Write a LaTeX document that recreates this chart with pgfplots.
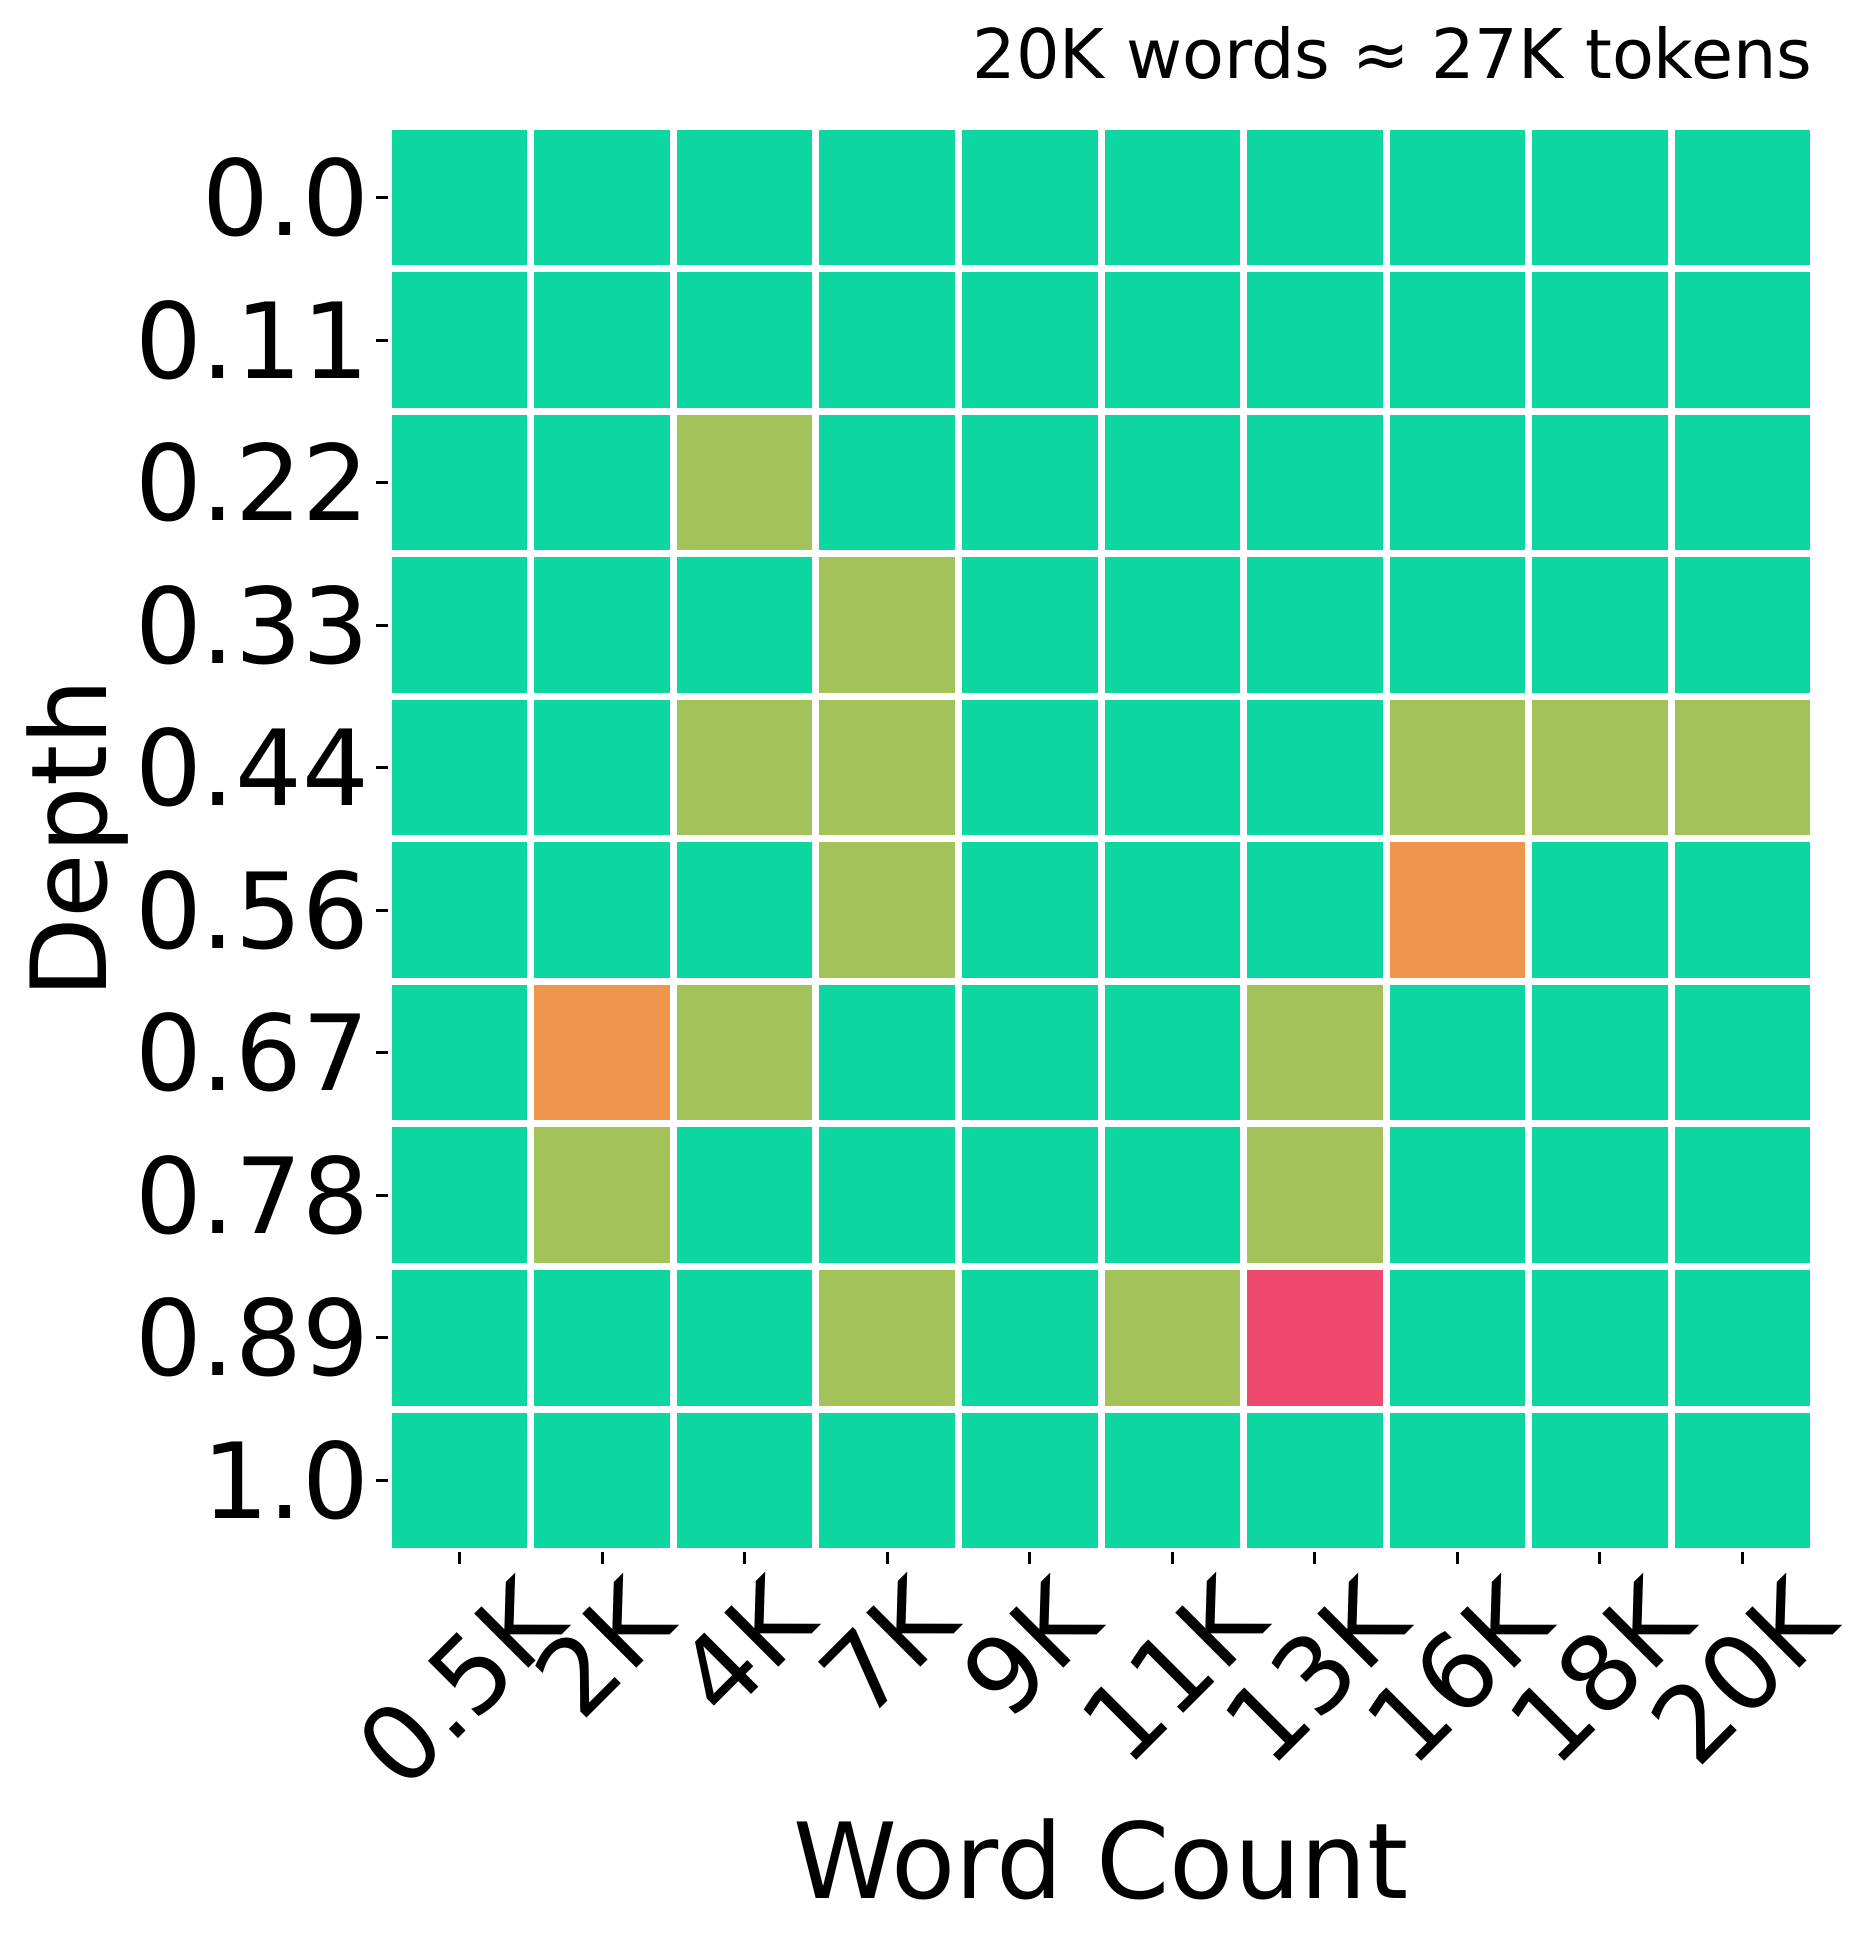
\documentclass[border=0pt]{standalone}
\usepackage{pgfplots}
\pgfplotsset{compat=1.18}
\usepackage{pgfplotstable}
\usepackage{graphicx}
\usepackage{fontspec}
\setmainfont{DejaVu Sans}
\definecolor{cg}{RGB}{14,214,160}
\definecolor{co}{RGB}{163,194,90}
\definecolor{ca}{RGB}{238,149,78}
\definecolor{cr}{RGB}{239,74,110}

% x = word-count index, y = 9 - depth index, c = class
\pgfplotstableread{
x y c
0 9 g
1 9 g
2 9 g
3 9 g
4 9 g
5 9 g
6 9 g
7 9 g
8 9 g
9 9 g
0 8 g
1 8 g
2 8 g
3 8 g
4 8 g
5 8 g
6 8 g
7 8 g
8 8 g
9 8 g
0 7 g
1 7 g
2 7 o
3 7 g
4 7 g
5 7 g
6 7 g
7 7 g
8 7 g
9 7 g
0 6 g
1 6 g
2 6 g
3 6 o
4 6 g
5 6 g
6 6 g
7 6 g
8 6 g
9 6 g
0 5 g
1 5 g
2 5 o
3 5 o
4 5 g
5 5 g
6 5 g
7 5 o
8 5 o
9 5 o
0 4 g
1 4 g
2 4 g
3 4 o
4 4 g
5 4 g
6 4 g
7 4 a
8 4 g
9 4 g
0 3 g
1 3 a
2 3 o
3 3 g
4 3 g
5 3 g
6 3 o
7 3 g
8 3 g
9 3 g
0 2 g
1 2 o
2 2 g
3 2 g
4 2 g
5 2 g
6 2 o
7 2 g
8 2 g
9 2 g
0 1 g
1 1 g
2 1 g
3 1 o
4 1 g
5 1 o
6 1 r
7 1 g
8 1 g
9 1 g
0 0 g
1 0 g
2 0 g
3 0 g
4 0 g
5 0 g
6 0 g
7 0 g
8 0 g
9 0 g
}\heat

\begin{document}
\begin{tikzpicture}
\useasboundingbox (-77.7pt,-78.5pt) rectangle (296.3pt,310.3pt);
\begin{axis}[
  at={(0pt,0pt)}, anchor=south west,
  scale only axis, width=285pt, height=285pt,
  xmin=-0.5, xmax=9.5, ymin=-0.5, ymax=9.5,
  axis lines*=left, axis line style={draw=none},
  tick align=outside, major tick length=2.4pt,
  major tick style={black, line width=0.6pt},
  xtick={0,...,9}, ytick={0,...,9},
  xticklabels={\rotatebox{45}{0.5K},\rotatebox{45}{2K},\rotatebox{45}{4K},\rotatebox{45}{7K},\rotatebox{45}{9K},\rotatebox{45}{11K},\rotatebox{45}{13K},\rotatebox{45}{16K},\rotatebox{45}{18K},\rotatebox{45}{20K}},
  yticklabels={1.0,0.89,0.78,0.67,0.56,0.44,0.33,0.22,0.11,0.0},
  ticklabel style={font=\fontsize{21}{25}\selectfont},
  xticklabel style={anchor=north, inner sep=0pt, yshift=-1.5pt},
  yticklabel style={anchor=east, inner sep=0pt, xshift=-1.3pt},
  every axis x label/.style={at={(axis description cs:0.5,0)}, anchor=base, inner sep=0pt, yshift=-69.3pt, font=\fontsize{21}{25}\selectfont},
  every axis y label/.style={at={(axis description cs:0,0.5)}, xshift=-62.1pt, anchor=center, inner sep=0pt, rotate=90, font=\fontsize{21}{25}\selectfont},
  xlabel={Word Count}, ylabel={Depth},
  title={20K words ≈ 27K tokens},
  every axis title/.style={at={(axis description cs:1,1)}, anchor=base east, inner sep=0pt, yshift=9.5pt, font=\fontsize{13.7}{16}\selectfont},
  clip=false,
]
\addplot[only marks, scatter, scatter src=explicit symbolic, mark size=13.35pt,
  scatter/classes={
    g={mark=square*, draw=cg, fill=cg},
    o={mark=square*, draw=co, fill=co},
    a={mark=square*, draw=ca, fill=ca},
    r={mark=square*, draw=cr, fill=cr}}]
  table[x=x, y=y, meta=c] {\heat};
\end{axis}
\end{tikzpicture}
\end{document}
